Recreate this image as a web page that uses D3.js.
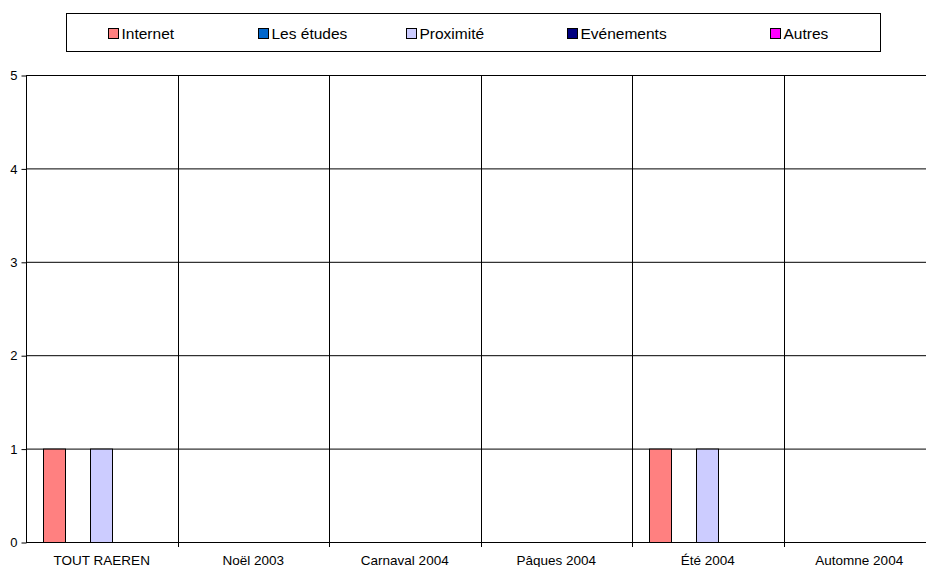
<!DOCTYPE html>
<html><head><meta charset="utf-8">
<script src="https://cdn.jsdelivr.net/npm/d3@7"></script>
<style>body{margin:0;background:#fff;}svg{display:block;font-family:Arial,"Liberation Sans",sans-serif;}</style>
</head><body>
<script>
const categories = ["TOUT RAEREN","Noël 2003","Carnaval 2004","Pâques 2004","Été 2004","Automne 2004"];
const seriesNames = ["Internet","Les études","Proximité","Evénements","Autres"];
const seriesColors = ["#FF8080","#0066CC","#CCCCFF","#000080","#FF00FF"];
const internet = [1,0,0,0,1,0];
const etudes = [0,0,0,0,0,0];
const proximite = [1,0,0,0,1,0];
const evenements = [0,0,0,0,0,0];
const autres = [0,0,0,0,0,0];
const yTicks = [0,1,2,3,4,5];
const seriesValues = [internet, etudes, proximite, evenements, autres];

const W = 926, H = 567;
const svg = d3.select("body").append("svg").attr("width", W).attr("height", H);
const x0 = 26, x1 = 935, yTop = 75, yBot = 542;
const x = d3.scaleBand().domain(categories).range([x0, x1]).paddingInner(0).paddingOuter(0);
const y = d3.scaleLinear().domain([0,5]).range([yBot, yTop]);
const inner = d3.scaleBand().domain(seriesNames).range([17, x.bandwidth()-17.5]);

// horizontal grid
svg.append("g").selectAll("line").data(yTicks).join("line")
  .attr("x1", x0).attr("x2", x1).attr("y1", d=>y(d)+0.5).attr("y2", d=>y(d)+0.5)
  .attr("stroke", "#000").attr("stroke-width", 1);
// vertical grid at category boundaries
svg.append("g").selectAll("line").data(categories.slice(1)).join("line")
  .attr("x1", d=>Math.round(x(d))+0.5).attr("x2", d=>Math.round(x(d))+0.5)
  .attr("y1", yTop).attr("y2", yBot+5)
  .attr("stroke", "#000").attr("stroke-width", 1);

// bars
const barData = [];
seriesValues.forEach((vals, si) => vals.forEach((v, ci) => { if (v > 0) barData.push({s: seriesNames[si], c: categories[ci], v, col: seriesColors[si]}); }));
svg.append("g").selectAll("rect").data(barData).join("rect")
  .attr("x", d => Math.round(x(d.c) + inner(d.s)) + 0.5)
  .attr("y", d => y(d.v) + 0.5)
  .attr("width", Math.round(inner.bandwidth()) - 1)
  .attr("height", d => y(0) - y(d.v))
  .attr("fill", d => d.col).attr("stroke", "#000").attr("stroke-width", 1);

// y axis
const yAxis = d3.axisLeft(y).tickValues(yTicks).tickSize(5).tickPadding(4).tickFormat(d3.format("d"));
const ga = svg.append("g").attr("transform", `translate(${x0+0.5},0.5)`).call(yAxis);
ga.select(".domain").attr("stroke", "#000").attr("d", `M0,${yTop}V${yBot}`);
ga.selectAll("text").attr("font-size", 13).attr("fill", "#000").attr("font-family", "Arial, 'Liberation Sans', sans-serif");
ga.selectAll("line").attr("stroke", "#000");

// x labels
svg.append("g").selectAll("text").data(categories).join("text")
  .attr("x", d => x(d) + x.bandwidth()/2).attr("y", 564.5)
  .attr("text-anchor", "middle").attr("font-size", 13.5).attr("fill", "#000").text(d => d);

// legend
const lg = svg.append("g");
lg.append("rect").attr("x", 66.5).attr("y", 13.5).attr("width", 814).attr("height", 38).attr("fill", "#fff").attr("stroke", "#000");
const legX = [108, 258, 406, 567, 770];
const li = lg.selectAll("g").data(seriesNames).join("g").attr("transform", (d,i) => `translate(${legX[i]},28)`);
li.append("rect").attr("x", 0.5).attr("y", 0.5).attr("width", 10).attr("height", 10).attr("fill", (d,i)=>seriesColors[i]).attr("stroke", "#000");
li.append("text").attr("x", 13.5).attr("y", 11).attr("font-size", 15.5).attr("fill", "#000").text(d => d);
</script>
</body></html>
